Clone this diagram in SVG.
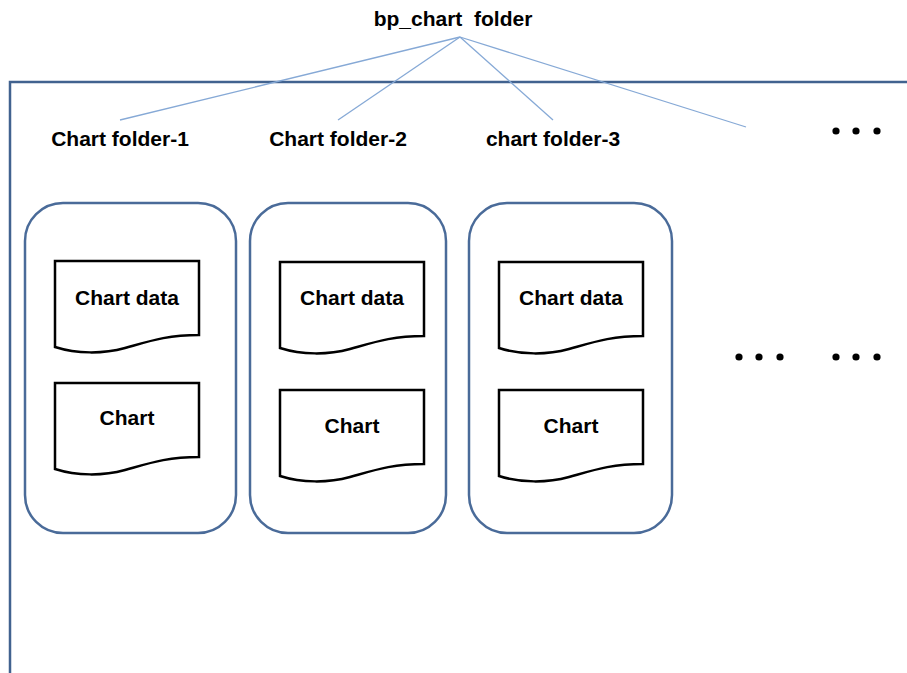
<svg xmlns="http://www.w3.org/2000/svg" width="907" height="673" viewBox="0 0 907 673">
<style>
text{font-family:"Liberation Sans",Arial,sans-serif;font-weight:bold;font-size:21px;fill:#000;text-anchor:middle;white-space:pre}
.frame{fill:none;stroke:#41628f;stroke-width:2.5}
.box{fill:#fff;stroke:#4a6b99;stroke-width:2.5}
.doc{fill:#fff;stroke:#000;stroke-width:2.5;stroke-linejoin:miter}
.conn{stroke:#86a9d6;stroke-width:1.3;fill:none}
.dot{fill:#000}
</style>
<defs>
<path id="docshape" d="M0,0 H144 V74 C112,74 95,80 70,87 C48,93 22,93 0,86 Z"/>
</defs>
<rect width="907" height="673" fill="#fff"/>
<g id="frame">
<path class="frame" d="M10,673 V82 H907"/>
</g>
<g id="connectors">
<line class="conn" x1="460" y1="37" x2="120" y2="120"/>
<line class="conn" x1="460" y1="37" x2="338" y2="120"/>
<line class="conn" x1="460" y1="37" x2="553" y2="120"/>
<line class="conn" x1="460" y1="37" x2="746" y2="127"/>
</g>
<g id="root"><text x="453" y="26" xml:space="preserve">bp_chart  folder</text></g>
<g id="label1"><text x="120" y="146">Chart folder-1</text></g>
<g id="label2"><text x="338" y="146">Chart folder-2</text></g>
<g id="label3"><text x="553" y="146">chart folder-3</text></g>
<g id="dots-top">
<circle class="dot" cx="836" cy="131" r="3.6"/><circle class="dot" cx="856" cy="131" r="3.6"/><circle class="dot" cx="877" cy="131" r="3.6"/>
</g>
<g id="folder1">
<rect class="box" x="25" y="203" width="211" height="330" rx="38"/>
<use href="#docshape" class="doc" x="55" y="261"/>
<text x="127" y="305">Chart data</text>
<use href="#docshape" class="doc" x="55" y="383"/>
<text x="127" y="425">Chart</text>
</g>
<g id="folder2">
<rect class="box" x="250" y="203" width="196" height="330" rx="38"/>
<use href="#docshape" class="doc" x="280" y="262"/>
<text x="352" y="305">Chart data</text>
<use href="#docshape" class="doc" x="280" y="390"/>
<text x="352" y="433">Chart</text>
</g>
<g id="folder3">
<rect class="box" x="469" y="203" width="203" height="330" rx="38"/>
<use href="#docshape" class="doc" x="499" y="262"/>
<text x="571" y="305">Chart data</text>
<use href="#docshape" class="doc" x="499" y="390"/>
<text x="571" y="433">Chart</text>
</g>
<g id="dots-mid">
<circle class="dot" cx="739" cy="357" r="3.6"/><circle class="dot" cx="759" cy="357" r="3.6"/><circle class="dot" cx="780" cy="357" r="3.6"/>
<circle class="dot" cx="836" cy="357" r="3.6"/><circle class="dot" cx="856" cy="357" r="3.6"/><circle class="dot" cx="877" cy="357" r="3.6"/>
</g>
</svg>
